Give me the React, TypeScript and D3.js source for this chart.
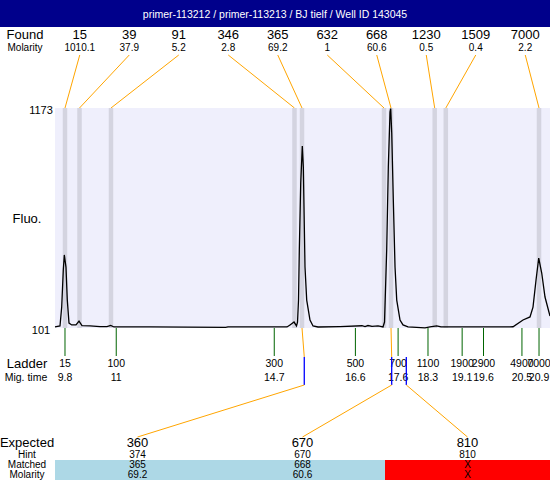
import React from "react";
import * as d3 from "d3";

const TITLE = "primer-113212 / primer-113213 / BJ tielf / Well ID 143045";

const foundSizes = ["15", "39", "91", "346", "365", "632", "668", "1230", "1509", "7000"];
const foundMolarity = ["1010.1", "37.9", "5.2", "2.8", "69.2", "1", "60.6", "0.5", "0.4", "2.2"];
const foundTimes = [9.8, 10.14, 10.877, 15.174, 15.35, 17.27, 17.434, 18.457, 18.717, 20.9];

const ladderSizes = [15, 100, 300, 500, 700, 1100, 1900, 2900, 4900, 7000];
const ladderTimeLabels = ["9.8", "11", "14.7", "16.6", "17.6", "18.3", "19.1", "19.6", "20.5", "20.9"];
const ladderTimes = [9.8, 11, 14.7, 16.6, 17.6, 18.3, 19.1, 19.6, 20.5, 20.9];

const expectedSizes = ["360", "670", "810"];
const hintSizes = [374, 670, 810];
const matchedSizes = ["365", "668", "X"];
const matchedMolarity = ["69.2", "60.6", "X"];
const matchedTimes: (number | null)[] = [15.35, 17.434, null];

const traceTime = [
  9.566, 9.683, 9.723, 9.76, 9.784, 9.823, 9.854, 9.894, 9.957, 10.058, 10.128, 10.198, 10.385, 10.62, 10.784,
  10.87, 10.947, 11.79, 13.563, 13.617, 14.999, 15.069, 15.163, 15.221, 15.245, 15.268, 15.287, 15.32, 15.357,
  15.381, 15.42, 15.46, 15.537, 15.608, 15.725, 16.24, 16.755, 16.825, 16.895, 16.989, 17.13, 17.247, 17.282,
  17.333, 17.371, 17.411, 17.427, 17.451, 17.488, 17.528, 17.568, 17.645, 17.715, 17.832, 18.23, 18.347, 18.504,
  18.605, 20.221, 20.291, 20.525, 20.689, 20.759, 20.83, 20.893, 20.963, 21.04, 21.157,
];
const traceFluo = [
  106, 111, 203, 384, 457, 398, 237, 125, 116, 116, 135, 113, 111, 108, 108,
  114, 106, 106, 104, 106, 106, 116, 130, 111, 130, 237, 481, 808, 988,
  886, 398, 237, 140, 111, 106, 108, 112, 108, 113, 109, 111, 106, 130,
  481, 886, 1153, 1170, 1051, 725, 398, 237, 140, 116, 106, 102, 106, 111,
  106, 106, 107, 140, 155, 203, 335, 442, 369, 252, 159,
];

const FONT = "Arial, 'Liberation Sans', sans-serif";

export default function App() {
  React.useEffect(() => {
    document.body.style.margin = "0";
  }, []);

  const left = 55, right = 550, top = 108, bottom = 328;
  const x = d3.scaleLinear().domain([9.566, 21.157]).range([left, right]);
  const y = d3.scaleLinear().domain([101, 1173]).range([bottom, top]);
  const foundBand = d3.scaleBand<number>().domain(d3.range(foundSizes.length)).range([left, right]);
  const colBand = d3.scaleBand<number>().domain(d3.range(expectedSizes.length)).range([left, right]);
  const sizeToTime = d3.scaleLinear().domain(ladderSizes).range(ladderTimes);

  const line = d3
    .line<number>()
    .x((_, i) => x(traceTime[i]))
    .y((d) => y(d))
    .curve(d3.curveLinear);

  const bandW = 4.5;

  return (
    <svg width={550} height={480} style={{ display: "block", position: "absolute", left: 0, top: 0 }} fontFamily={FONT}>
      <rect x={0} y={0} width={550} height={480} fill="#ffffff" />
      {/* header */}
      <rect x={0} y={0} width={550} height={27} fill="#00008B" />
      <text x={275} y={18} textAnchor="middle" fill="#ffffff" fontSize={10.5}>
        {TITLE}
      </text>

      {/* Found row */}
      <text x={25} y={39} textAnchor="middle" fontSize={13}>Found</text>
      <text x={25} y={51} textAnchor="middle" fontSize={10}>Molarity</text>
      {foundSizes.map((s, i) => {
        const cx = (foundBand(i) as number) + foundBand.bandwidth() / 2;
        return (
          <g key={"f" + i}>
            <text x={cx} y={39} textAnchor="middle" fontSize={13}>{s}</text>
            <text x={cx} y={51} textAnchor="middle" fontSize={10}>{foundMolarity[i]}</text>
            <line x1={cx} y1={55} x2={x(foundTimes[i])} y2={top} stroke="#FFA500" strokeWidth={1} />
          </g>
        );
      })}

      {/* plot area */}
      <rect x={left} y={top} width={right - left} height={bottom - top} fill="#EFEFFC" />
      {foundTimes.map((t, i) => (
        <rect key={"b" + i} x={x(t) - bandW / 2} y={top} width={bandW} height={bottom - top} fill="#D4D4E0" />
      ))}
      <path d={line(traceFluo) || ""} fill="none" stroke="#000000" strokeWidth={1.3} />

      <text x={41} y={114} textAnchor="middle" fontSize={11}>1173</text>
      <text x={41} y={334} textAnchor="middle" fontSize={11}>101</text>
      <text x={27} y={223} textAnchor="middle" fontSize={13}>Fluo.</text>

      {/* ladder */}
      <text x={27} y={368} textAnchor="middle" fontSize={13}>Ladder</text>
      <text x={26} y={381} textAnchor="middle" fontSize={10.5}>Mig. time</text>
      {ladderSizes.map((s, i) => {
        const lx = x(ladderTimes[i]);
        return (
          <g key={"l" + i}>
            <line x1={lx} y1={bottom} x2={lx} y2={356} stroke="#006400" strokeWidth={1} />
            <text x={lx} y={367} textAnchor="middle" fontSize={10.5}>{s}</text>
            <text x={lx} y={381} textAnchor="middle" fontSize={10.5}>{ladderTimeLabels[i]}</text>
          </g>
        );
      })}

      {/* connectors */}
      {hintSizes.map((h, i) => {
        const hx = x(sizeToTime(h));
        const cx = (colBand(i) as number) + colBand.bandwidth() / 2;
        const mt = matchedTimes[i];
        return (
          <g key={"c" + i}>
            {mt !== null && (
              <line x1={x(mt)} y1={bottom} x2={hx} y2={357} stroke="#FFA500" strokeWidth={1} />
            )}
            <line x1={hx} y1={357} x2={hx} y2={385} stroke="#0000FF" strokeWidth={1.3} />
            <line x1={hx} y1={385} x2={cx} y2={437} stroke="#FFA500" strokeWidth={1} />
          </g>
        );
      })}

      {/* table */}
      {expectedSizes.map((e, i) => {
        const bx = colBand(i) as number;
        const cx = bx + colBand.bandwidth() / 2;
        return (
          <g key={"t" + i}>
            <rect x={bx} y={460} width={colBand.bandwidth()} height={20} fill={matchedSizes[i] === "X" ? "#FF0000" : "#ADD8E6"} />
            <text x={cx} y={447} textAnchor="middle" fontSize={13}>{e}</text>
            <text x={cx} y={458} textAnchor="middle" fontSize={10}>{hintSizes[i]}</text>
            <text x={cx} y={468} textAnchor="middle" fontSize={10}>{matchedSizes[i]}</text>
            <text x={cx} y={477.5} textAnchor="middle" fontSize={10}>{matchedMolarity[i]}</text>
          </g>
        );
      })}
      <text x={27} y={447} textAnchor="middle" fontSize={13}>Expected</text>
      <text x={27} y={458} textAnchor="middle" fontSize={10}>Hint</text>
      <text x={27} y={468} textAnchor="middle" fontSize={10}>Matched</text>
      <text x={27} y={477.5} textAnchor="middle" fontSize={10}>Molarity</text>
    </svg>
  );
}
